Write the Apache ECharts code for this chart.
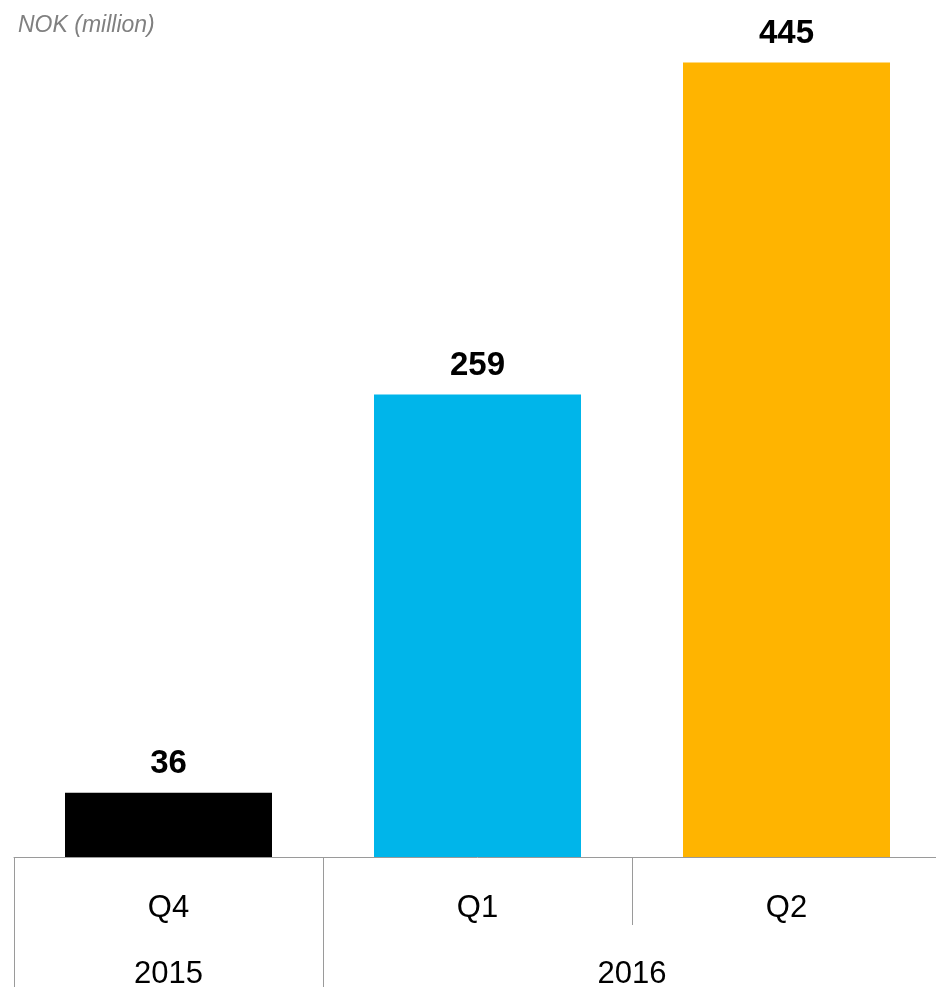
<!DOCTYPE html>
<html>
<head>
<meta charset="utf-8">
<script src="https://cdn.jsdelivr.net/npm/echarts@6/dist/echarts.min.js"></script>
<style>
  html, body { margin: 0; padding: 0; background: #fff; overflow: hidden; }
  #chart { width: 941px; height: 990px; }
</style>
</head>
<body>
<div id="chart"></div>
<script>
const quarters = ['Q4', 'Q1', 'Q2'];
const values = [36, 259, 445];
const barColors = ['#000000', '#00B5EA', '#FFB400'];
const years = ['2015', '2016'];
// year groups as [startIndex, endIndex) over the quarter categories
const yearSpans = [[0, 1], [1, 3]];
const unitLabel = 'NOK (million)';

const FONT = "'Liberation Sans', Arial, sans-serif";

const yearCenters = yearSpans.map(s => (s[0] + s[1]) / 2);
const yearBounds = yearSpans.map(s => s[0]);

const chart = echarts.init(document.getElementById('chart'));
chart.setOption({
  animation: false,
  title: {
    text: unitLabel,
    left: 13,
    top: 9,
    textStyle: { fontFamily: FONT, fontStyle: 'italic', fontWeight: 'normal', fontSize: 23, color: '#808080' }
  },
  grid: { left: 14, right: 0, top: 0, bottom: 130, containLabel: false },
  xAxis: [
    {
      type: 'category',
      data: quarters,
      position: 'bottom',
      axisLine: { show: true, lineStyle: { color: '#9a9a9a', width: 1 } },
      axisTick: { show: true, alignWithLabel: false, length: 68, lineStyle: { color: '#9a9a9a', width: 1 } },
      axisLabel: { fontFamily: FONT, fontSize: 31, color: '#000', margin: 36 }
    },
    {
      type: 'value',
      min: 0,
      max: quarters.length,
      position: 'bottom',
      axisLine: { show: false },
      splitLine: { show: false },
      axisTick: { show: true, customValues: yearBounds, length: 130, lineStyle: { color: '#9a9a9a', width: 1 } },
      axisLabel: {
        show: true,
        customValues: yearCenters,
        formatter: v => {
          const i = yearCenters.indexOf(v);
          return i >= 0 ? years[i] : '';
        },
        fontFamily: FONT, fontSize: 31, color: '#000', margin: 102
      }
    }
  ],
  yAxis: { type: 'value', min: 0, max: 480, show: false, splitLine: { show: false } },
  series: [{
    type: 'bar',
    xAxisIndex: 0,
    data: values.map((v, i) => ({ value: v, itemStyle: { color: barColors[i] } })),
    barWidth: 207,
    label: {
      show: true,
      position: 'top',
      distance: 12,
      fontFamily: FONT,
      fontWeight: 'bold',
      fontSize: 33,
      color: '#000'
    }
  }]
});
</script>
</body>
</html>
